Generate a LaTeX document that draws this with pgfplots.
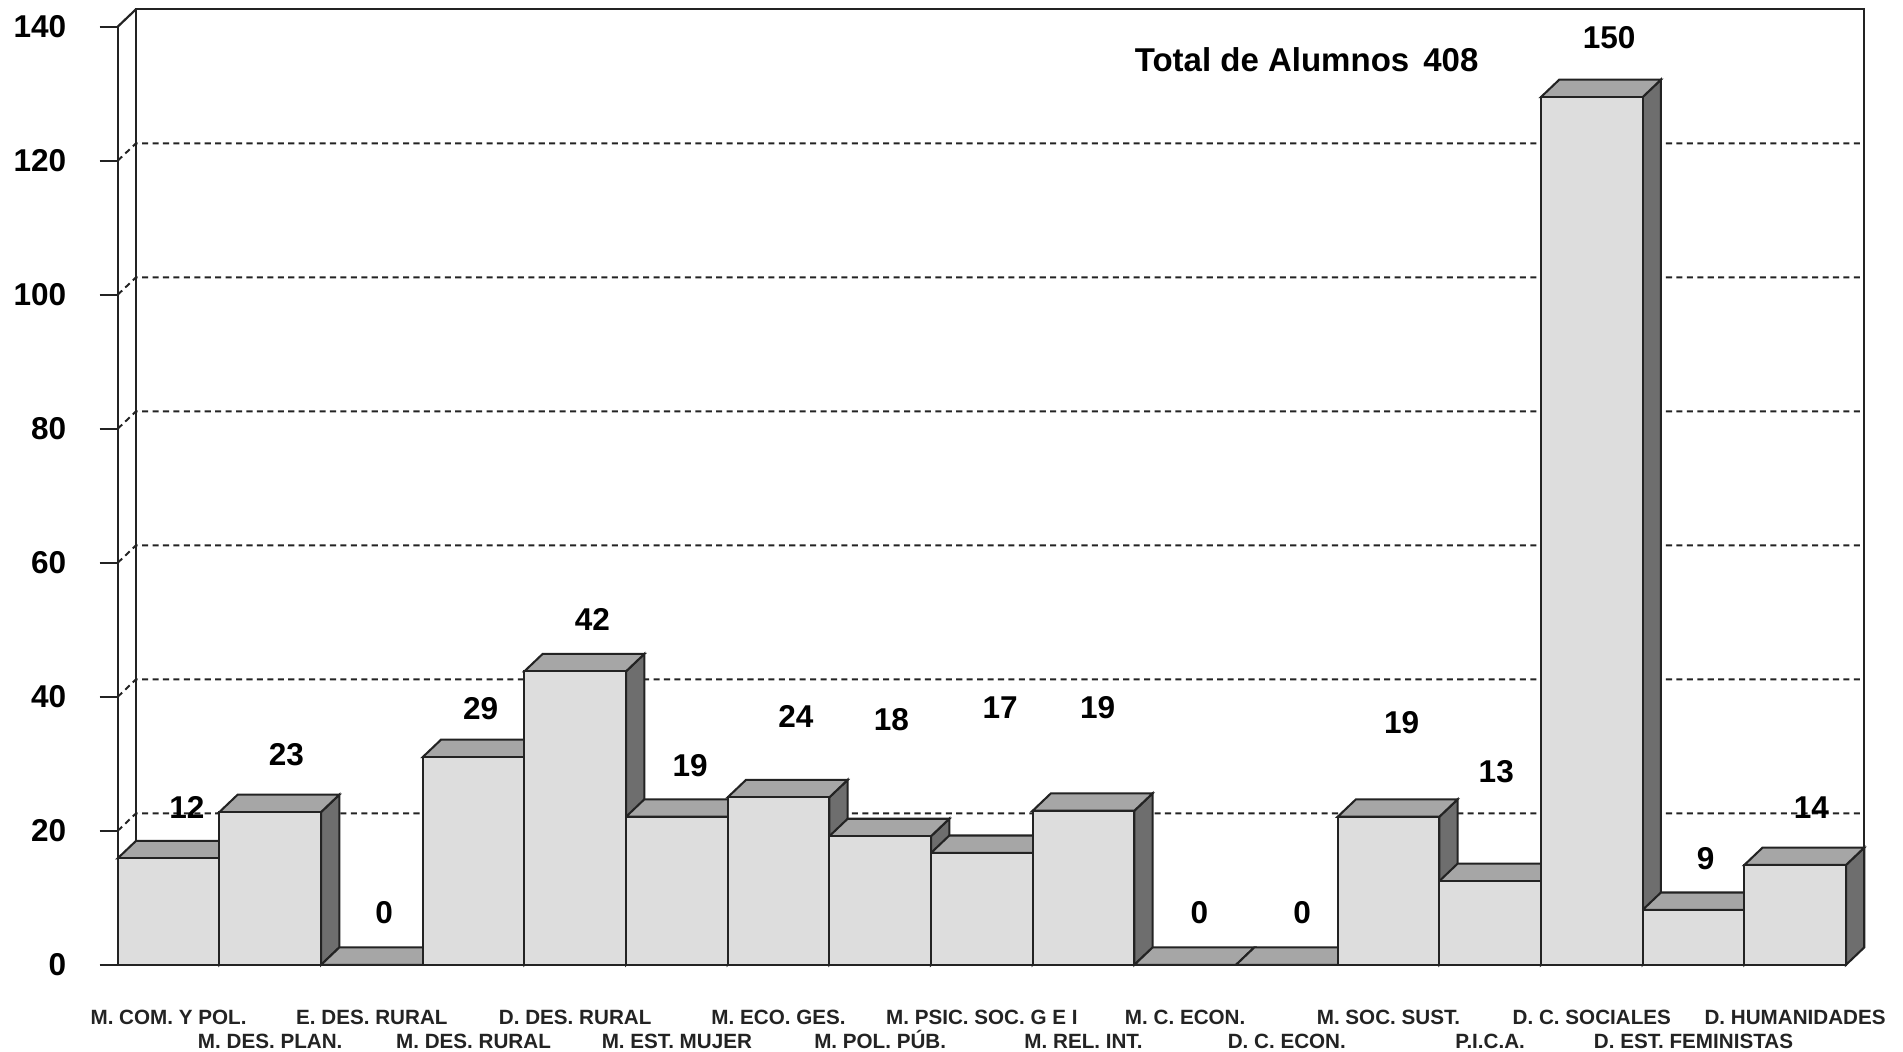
\documentclass[border=0pt]{standalone}
\usepackage{fontspec}
\setmainfont{Liberation Sans}
\usepackage{pgfplots}
\usepackage{pgfplotstable}
\pgfplotsset{compat=1.18}

\definecolor{frontgray}{RGB}{221,221,221}
\definecolor{topgray}{RGB}{166,166,166}
\definecolor{sidegray}{RGB}{110,110,110}
\definecolor{edge}{RGB}{35,35,35}

% h = drawn bar height, lab = printed value, (lx,ly) = label position
\pgfplotstableread{
x h lab lx ly
0 15.9 12 0.18 23.5
1 22.8 23 1.16 31.3
2 0 0 2.12 7.8
3 31.0 29 3.07 38.2
4 43.8 42 4.17 51.6
5 22.1 19 5.13 29.7
6 25.0 24 6.17 37.0
7 19.2 18 7.11 36.6
8 16.7 17 8.18 38.4
9 23.0 19 9.14 38.4
10 0 0 10.14 7.8
11 0 0 11.15 7.8
12 22.1 19 12.13 36.2
13 12.5 13 13.06 28.8
14 129.5 150 14.17 138.4
15 8.2 9 15.12 15.8
16 14.9 14 16.16 23.5
}\bars

\def\dx{0.18}
\def\dy{2.6}

\begin{document}
\begin{tikzpicture}
\begin{axis}[
    scale only axis,
    width=712pt, height=386.5pt,
    xmin=-0.5, xmax=16.5, ymin=0, ymax=140,
    clip=false,
    axis x line*=bottom, axis y line*=left,
    axis line style={-, edge, line width=0.9pt},
    xtick={0,...,16},
    xticklabels={
      {\strut M. COM. Y POL.},
      {\strut\\\strut M. DES. PLAN.},
      {\strut E. DES. RURAL},
      {\strut\\\strut M. DES. RURAL},
      {\strut D. DES. RURAL},
      {\strut\\\strut M. EST. MUJER},
      {\strut M. ECO. GES.},
      {\strut\\\strut M. POL. P\smash{Ú}B.},
      {\strut M. PSIC. SOC. G E I},
      {\strut\\\strut M. REL. INT.},
      {\strut M. C. ECON.},
      {\strut\\\strut D. C. ECON.},
      {\strut M. SOC. SUST.},
      {\strut\\\strut P.I.C.A.},
      {\strut D. C. SOCIALES},
      {\strut\\\strut D. EST. FEMINISTAS},
      {\strut D. HUMANIDADES}},
    x tick style={draw=none},
    xticklabel style={align=center, anchor=north, inner sep=0pt, yshift=-17.2pt,
        text=edge, font=\fontsize{8.5}{10}\selectfont\bfseries},
    ytick={0,20,...,140},
    ytick align=outside,
    y tick style={edge, line width=0.9pt},
    major tick length=7.5pt,
    yticklabel style={anchor=east, inner sep=0pt, xshift=-13.5pt,
        font=\fontsize{13}{13}\selectfont\bfseries},
    /pgf/number format/assume math mode=true,
]
\coordinate (O) at (rel axis cs:0,0);

% back wall and grid
\draw[edge, line width=0.9pt] (axis cs:-0.32,2.6) -- (axis cs:-0.32,142.6)
    -- (axis cs:16.68,142.6) -- (axis cs:16.68,2.6);
\draw[edge, line width=0.9pt] (axis cs:-0.5,140) -- (axis cs:-0.32,142.6);
\pgfplotsinvokeforeach{20,40,60,80,100,120}{
  \draw[edge, line width=0.8pt, dash pattern=on 2.5pt off 1.8pt]
      (axis cs:-0.5,#1) -- (axis cs:-0.32,#1+2.6) -- (axis cs:16.68,#1+2.6);
}

% side faces
\pgfplotsinvokeforeach{0,...,16}{
  \pgfplotstablegetelem{#1}{h}\of\bars
  \pgfmathsetmacro{\hh}{\pgfplotsretval}
  \pgfmathsetmacro{\htop}{\hh+\dy}
  \pgfmathsetmacro{\xr}{#1+0.5}
  \pgfmathsetmacro{\xrr}{#1+0.5+\dx}
  \edef\temp{\noexpand\addplot[fill=sidegray, draw=edge, line width=0.85pt]
     coordinates {(\xr,0) (\xr,\hh) (\xrr,\htop) (\xrr,\dy)} -- cycle;}
  \temp
}
% top faces
\pgfplotsinvokeforeach{0,...,16}{
  \pgfplotstablegetelem{#1}{h}\of\bars
  \pgfmathsetmacro{\hh}{\pgfplotsretval}
  \pgfmathsetmacro{\htop}{\hh+\dy}
  \pgfmathsetmacro{\xl}{#1-0.5}
  \pgfmathsetmacro{\xll}{#1-0.5+\dx}
  \pgfmathsetmacro{\xr}{#1+0.5}
  \pgfmathsetmacro{\xrr}{#1+0.5+\dx}
  \edef\temp{\noexpand\addplot[fill=topgray, draw=edge, line width=0.85pt]
     coordinates {(\xl,\hh) (\xll,\htop) (\xrr,\htop) (\xr,\hh)} -- cycle;}
  \temp
}
% front faces
\addplot[ybar, bar width=1, bar shift=0pt, fill=frontgray, draw=edge, line width=0.85pt]
    table[x=x, y=h] {\bars};

% value labels
\addplot[draw=none, mark=none, nodes near coords, point meta=explicit symbolic,
    every node near coord/.append style={anchor=center, text=black,
        font=\fontsize{13}{13}\selectfont\bfseries}]
    table[x=lx, y=ly, meta=lab] {\bars};

\node[anchor=west, font=\fontsize{13.6}{14}\selectfont\bfseries]
    at (axis cs:9.42,135) {Total de Alumnos\hspace{2pt} 408};
\end{axis}
\pgfresetboundingbox
\path (O) ++(-48.5pt,-35.5pt) rectangle ++(784pt,433pt);
\end{tikzpicture}
\end{document}
